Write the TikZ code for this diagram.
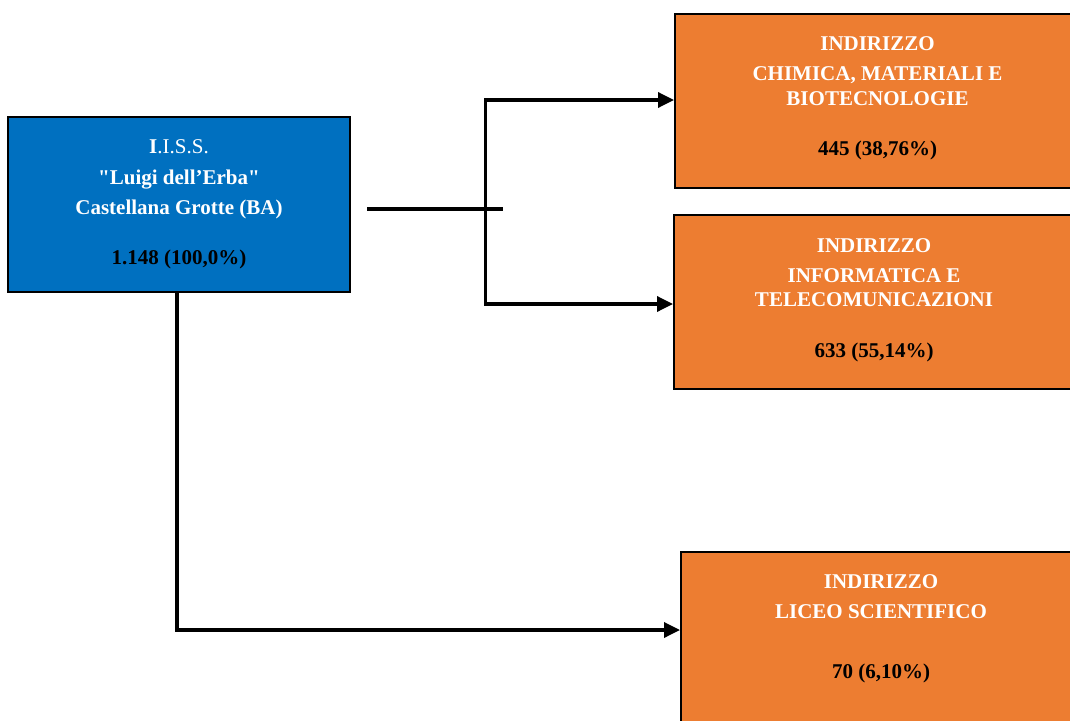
\documentclass[tikz,border=0pt]{standalone}
\usepackage{fontspec}
\setmainfont{Liberation Serif}[Ligatures=TeXOff]
\usetikzlibrary{arrows.meta}
\definecolor{boxblue}{HTML}{0070C0}
\definecolor{boxorange}{HTML}{ED7D31}
\tikzset{
  bluebox/.style={draw=black, line width=2pt, fill=boxblue, rectangle, inner sep=0pt},
  orangebox/.style={draw=black, line width=2pt, fill=boxorange, rectangle, inner sep=0pt},
  wtxt/.style={anchor=base, inner sep=0pt, text=white, font=\fontsize{21}{25}\selectfont\bfseries},
  btxt/.style={anchor=base, inner sep=0pt, text=black, font=\fontsize{21}{25}\selectfont\bfseries},
  conn/.style={line width=3.4pt, draw=black},
  arr/.style={conn, -{Triangle[length=16pt,width=15pt]}}
}
\begin{document}
\begin{tikzpicture}[x=1pt,y=-1pt]
\useasboundingbox (0,0) rectangle (1070,720);
\clip (0,0) rectangle (1070,720);
\fill[white] (0,0) rectangle (1070,720);

% boxes (corners in pixel coordinates)
\node[bluebox, minimum width=342pt, minimum height=175pt] (root) at (179,204.5) {};
\node[orangebox, minimum width=404pt, minimum height=174pt] (chim) at (877,101) {};
\node[orangebox, minimum width=404pt, minimum height=174pt] (info) at (876,302) {};
\node[orangebox, minimum width=404pt, minimum height=184pt] (liceo) at (883,644) {};

% root text
\node[wtxt] (r1) at (179,153) {I\mdseries.I.S.S.};
\node[wtxt] (r2) at (179,184) {"Luigi dell’Erba"};
\node[wtxt] (r3) at (179,214) {Castellana Grotte (BA)};
\node[btxt] (r4) at (179,264) {1.148 (100,0\%)};

% chimica text
\node[wtxt] (c1) at (877.5,50) {INDIRIZZO};
\node[wtxt] (c2) at (877.5,80) {CHIMICA, MATERIALI E};
\node[wtxt] (c3) at (877.5,105) {BIOTECNOLOGIE};
\node[btxt] (c4) at (877.5,155) {445 (38,76\%)};

% informatica text
\node[wtxt] (i1) at (874,252) {INDIRIZZO};
\node[wtxt] (i2) at (874,282) {INFORMATICA E};
\node[wtxt] (i3) at (874,306) {TELECOMUNICAZIONI};
\node[btxt] (i4) at (874,357) {633 (55,14\%)};

% liceo text
\node[wtxt] (l1) at (881,588) {INDIRIZZO};
\node[wtxt] (l2) at (881,618) {LICEO SCIENTIFICO};
\node[btxt] (l3) at (881,678) {70 (6,10\%)};

% connectors
\coordinate (hs) at (367,209);
\coordinate (he) at (503,209);
\coordinate (vt) at (485.5,100);
\coordinate (vb) at (485.5,304);
\coordinate (bs) at (177,292);
\coordinate (bc) at (177,630);

\draw[conn] (hs) -- (he);
\draw[conn, line cap=rect] (vt) -- (vb);
\draw[arr] (vt) -- (vt -| chim.west);
\draw[arr] (vb) -- (vb -| info.west);
\draw[conn] (bs) -- (bc);
\draw[arr] ([xshift=-1.7pt]bc) -- (bc -| liceo.west);
\end{tikzpicture}
\end{document}
